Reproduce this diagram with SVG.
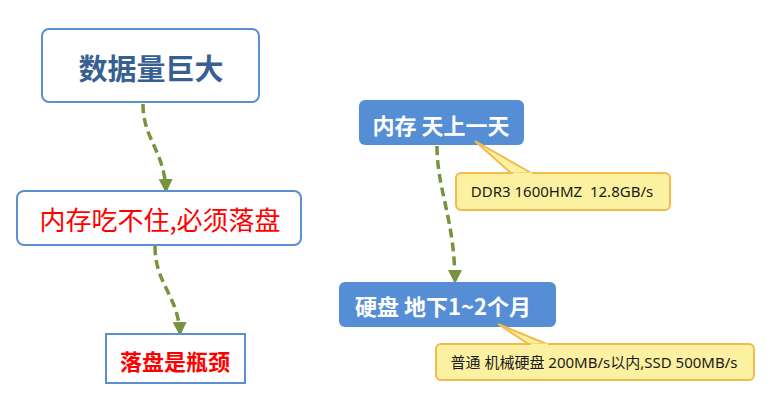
<svg xmlns="http://www.w3.org/2000/svg" width="775" height="418" viewBox="0 0 775 418">
<style>
text{font-family:"Noto Sans CJK SC","Microsoft YaHei",sans-serif;text-anchor:middle;dominant-baseline:central}
.box{fill:#fff;stroke:#5b8fd0;stroke-width:2}
.blue{fill:#558ed5}
.call{fill:#fcf1a0;stroke:#f1bb4d;stroke-width:2}
.conn{fill:none;stroke:#77933c;stroke-width:3.5;stroke-dasharray:9,5}
.wt{fill:#fff;font-weight:bold;font-size:22px}
.ct{fill:#1a1a1a;font-size:15px;font-family:"Noto Sans","Noto Sans CJK SC",sans-serif;white-space:pre}
</style>
<defs>
<marker id="arr" viewBox="0 0 10 10" refX="10" refY="5" markerWidth="14" markerHeight="15" markerUnits="userSpaceOnUse" orient="auto">
<path d="M0,0 L10,5 L0,10 z" fill="#77933c"/>
</marker>
</defs>
<rect width="775" height="418" fill="#fff"/>
<g id="connectors">
<path class="conn" d="M143,104 C143,140 165,150 166,193" marker-end="url(#arr)"/>
<path class="conn" d="M155,246 C155,285 179,295 180,336" marker-end="url(#arr)"/>
<path class="conn" d="M437,146 C437,190 455,220 455,284" marker-end="url(#arr)"/>
</g>
<g id="n1">
<rect class="box" x="42" y="29" width="217" height="73" rx="7"/>
<text x="151" y="67" style="font-size:29px;font-weight:bold;fill:#376092">数据量巨大</text>
</g>
<g id="n2">
<rect class="box" x="17" y="191" width="284" height="54" rx="7"/>
<text x="160" y="218" style="font-size:26px;fill:#ff0000">内存吃不住,必须落盘</text>
</g>
<g id="n3">
<rect class="box" x="106" y="334" width="139" height="49"/>
<text x="175" y="360" style="font-size:22px;font-weight:bold;fill:#ff0000">落盘是瓶颈</text>
</g>
<g id="n4">
<rect class="blue" x="359" y="100" width="165" height="45" rx="6"/>
<text class="wt" x="441" y="124">内存 天上一天</text>
</g>
<g id="c1">
<path class="call" d="M475,141 L512,174 L533,174 Z"/>
<rect class="call" x="456" y="173" width="214" height="37" rx="5"/>
<path d="M513,174 L532,174" stroke="#fcf1a0" stroke-width="3"/>
<text class="ct" x="562" y="191" xml:space="preserve">DDR3 1600HMZ  12.8GB/s</text>
</g>
<g id="n5">
<rect class="blue" x="339" y="282" width="217" height="45" rx="6"/>
<text class="wt" x="443" y="305">硬盘 地下1~2个月</text>
</g>
<g id="c2">
<path class="call" d="M498,324 L530,345 L549,345 Z"/>
<rect class="call" x="436" y="344" width="318" height="36" rx="5"/>
<path d="M531,345 L548,345" stroke="#fcf1a0" stroke-width="3"/>
<text class="ct" x="594" y="362">普通 机械硬盘 200MB/s以内,SSD 500MB/s</text>
</g>
</svg>
